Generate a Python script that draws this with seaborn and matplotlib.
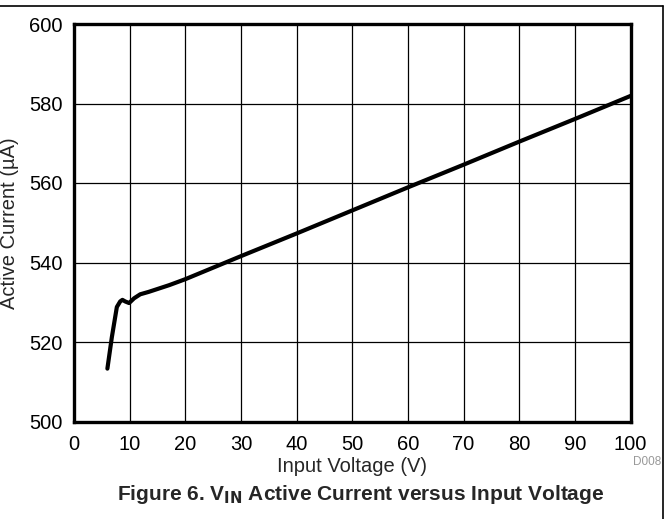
import matplotlib
matplotlib.use('Agg')
import matplotlib.pyplot as plt
import seaborn as sns
import pandas as pd

# Values
voltage = [6.0, 6.8, 7.7, 8.3, 8.7, 9.2, 9.9, 10.8, 11.9, 13.4, 17.1, 20, 30, 40, 50, 60, 70, 80, 90, 100]
current = [513.3, 521.2, 528.8, 530.2, 530.6, 530.2, 529.8, 531.0, 532.0, 532.6, 534.3,
           535.8, 541.6, 547.3, 553.1, 558.9, 564.6, 570.4, 576.1, 581.9]
x_ticks = [0, 10, 20, 30, 40, 50, 60, 70, 80, 90, 100]
y_ticks = [500, 520, 540, 560, 580, 600]

df = pd.DataFrame({'Input Voltage (V)': voltage, 'Active Current (µA)': current})

sns.set_style('white')
plt.rcParams['font.family'] = ['Liberation Sans', 'DejaVu Sans']

fig = plt.figure(figsize=(6.65, 5.19), dpi=100)
ax = fig.add_axes([74 / 665, 1 - 421.5 / 519, 556.5 / 665, 397.5 / 519])

sns.lineplot(data=df, x='Input Voltage (V)', y='Active Current (µA)', ax=ax,
             color='black', linewidth=3.0, sort=False, zorder=3)

ax.set_xlim(0, 100)
ax.set_ylim(500, 600)
ax.set_xticks(x_ticks)
ax.set_yticks(y_ticks)
ax.grid(True, color='black', linewidth=0.9)
ax.tick_params(axis='both', length=0, labelsize=14.5, colors='black')
ax.tick_params(axis='x', pad=10)
ax.tick_params(axis='y', pad=8)
for s in ax.spines.values():
    s.set_linewidth(2.4)
    s.set_color('black')

ax.set_xlabel('Input Voltage (V)', fontsize=14.5, labelpad=2)
ax.set_ylabel('Active Current (µA)', fontsize=14.5)
ax.yaxis.set_label_coords(-0.098, 0.5)

# figure frame lines (top and right)
fig.add_artist(plt.Line2D([0, 663 / 665], [1 - 6 / 519, 1 - 6 / 519], color='black', linewidth=1.2))
fig.add_artist(plt.Line2D([663 / 665, 663 / 665], [0, 1 - 6 / 519], color='black', linewidth=1.2))

fig.text(661 / 665, 1 - 462 / 519, 'D008', fontsize=8.5, color='#999999', ha='right', va='center')
fig.text(361 / 665, 1 - 495 / 519, r'Figure 6. V$_{\mathbf{IN}}$ Active Current versus Input Voltage',
         fontsize=15, fontweight='bold', ha='center', va='center')

plt.savefig('out.png', dpi=100)
